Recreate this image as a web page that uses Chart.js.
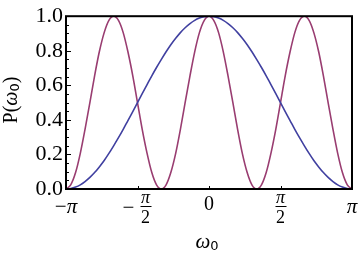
<!DOCTYPE html>
<html>
<head>
<meta charset="utf-8">
<script src="https://cdn.jsdelivr.net/npm/chart.js@4/dist/chart.umd.min.js"></script>
<style>
  html, body { margin: 0; padding: 0; background: #fff; }
  canvas { display: block; }
</style>
</head>
<body>
<canvas id="chart" width="360" height="260"></canvas>
<script>
// omega_0 in units of pi
const omega = [
  -1, -0.967, -0.933, -0.9, -0.867, -0.833, -0.8, -0.767, -0.733, -0.7,
  -0.667, -0.633, -0.6, -0.567, -0.533, -0.5, -0.467, -0.433, -0.4, -0.367,
  -0.333, -0.3, -0.267, -0.233, -0.2, -0.167, -0.133, -0.1, -0.067, -0.033,
  0,
  0.033, 0.067, 0.1, 0.133, 0.167, 0.2, 0.233, 0.267, 0.3, 0.333,
  0.367, 0.4, 0.433, 0.467, 0.5, 0.533, 0.567, 0.6, 0.633, 0.667,
  0.7, 0.733, 0.767, 0.8, 0.833, 0.867, 0.9, 0.933, 0.967, 1,
]

// wide single bump (blue)
const pBlue = [
  0, 0.003, 0.011, 0.024, 0.043, 0.067, 0.095, 0.128, 0.165, 0.206,
  0.25, 0.297, 0.345, 0.396, 0.448, 0.5, 0.552, 0.604, 0.655, 0.703,
  0.75, 0.794, 0.835, 0.872, 0.905, 0.933, 0.957, 0.976, 0.989, 0.997,
  1,
  0.997, 0.989, 0.976, 0.957, 0.933, 0.905, 0.872, 0.835, 0.794, 0.75,
  0.703, 0.655, 0.604, 0.552, 0.5, 0.448, 0.396, 0.345, 0.297, 0.25,
  0.206, 0.165, 0.128, 0.095, 0.067, 0.043, 0.024, 0.011, 0.003, 0,
]

// three bumps (purple)
const pPurple = [
  0, 0.024, 0.095, 0.206, 0.345, 0.5, 0.655, 0.794, 0.905, 0.976,
  1, 0.976, 0.905, 0.794, 0.655, 0.5, 0.345, 0.206, 0.095, 0.024,
  0, 0.024, 0.095, 0.206, 0.345, 0.5, 0.655, 0.794, 0.905, 0.976,
  1,
  0.976, 0.905, 0.794, 0.655, 0.5, 0.345, 0.206, 0.095, 0.024, 0,
  0.024, 0.095, 0.206, 0.345, 0.5, 0.655, 0.794, 0.905, 0.976, 1,
  0.976, 0.905, 0.794, 0.655, 0.5, 0.345, 0.206, 0.095, 0.024, 0,
]

const yTicks = [0, 0.2, 0.4, 0.6, 0.8, 1.0]
const xTicks = [-1, -0.5, 0, 0.5, 1]

const SERIF = "'Liberation Serif', 'Times New Roman', serif"
const SANS = "'DejaVu Sans', sans-serif"

const points = (ys) => omega.map((x, i) => ({ x, y: ys[i] }))

// frame, inward ticks, pi tick labels and axis titles
const framePlugin = {
  id: "frame",
  afterDatasetsDraw(chart) {
    const { ctx, chartArea: a, scales } = chart
    const xs = scales.x, ys = scales.y
    ctx.save()
    ctx.strokeStyle = "#000"

    // minor + major ticks on the left
    ctx.lineWidth = 1
    ctx.beginPath()
    for (let i = 1; i < 20; i++) {
      const y = Math.round(ys.getPixelForValue(i * 0.05)) + 0.5
      const len = i % 4 === 0 ? 5 : 3
      ctx.moveTo(a.left, y)
      ctx.lineTo(a.left + len, y)
    }
    for (const v of [-0.5, 0, 0.5]) {
      const x = Math.round(xs.getPixelForValue(v)) + 0.5
      ctx.moveTo(x, a.bottom)
      ctx.lineTo(x, a.bottom - 3)
    }
    ctx.stroke()

    ctx.lineWidth = 2
    ctx.strokeRect(a.left, a.top, a.right - a.left, a.bottom - a.top)

    // x tick labels
    ctx.fillStyle = "#000"
    ctx.textBaseline = "alphabetic"
    for (const v of xTicks) {
      const cx = xs.getPixelForValue(v)
      if (v === 0) {
        ctx.font = "20px " + SERIF
        ctx.textAlign = "center"
        ctx.fillText("0", cx, 210)
      } else if (Math.abs(v) === 1) {
        ctx.font = "italic 21px " + SERIF
        const piW = ctx.measureText("π").width
        ctx.font = "21px " + SERIF
        const mW = v < 0 ? ctx.measureText("−").width : 0
        let x0 = cx - (mW + piW) / 2
        ctx.textAlign = "left"
        if (v < 0) ctx.fillText("−", x0, 213)
        ctx.font = "italic 21px " + SERIF
        ctx.fillText("π", x0 + mW, 213)
      } else {
        const fx = v < 0 ? cx + 8 : cx
        ctx.textAlign = "center"
        ctx.font = "italic 18px " + SERIF
        ctx.fillText("π", fx, 203)
        ctx.font = "18px " + SERIF
        ctx.fillText("2", fx, 223)
        ctx.fillRect(fx - 5, 206, 11, 1)
        if (v < 0) {
          ctx.font = "21px " + SERIF
          ctx.fillText("−", cx - 9, 214)
        }
      }
    }

    // x title: omega_0
    ctx.textAlign = "left"
    ctx.font = "italic 21px " + SERIF
    const wW = ctx.measureText("ω").width
    ctx.font = "13px " + SANS
    const zW = ctx.measureText("0").width
    const tx = (a.left + a.right) / 2 - (wW + zW) / 2 - 2
    ctx.font = "italic 21px " + SERIF
    ctx.fillText("ω", tx, 248)
    ctx.font = "13px " + SANS
    ctx.fillText("0", tx + wW, 250)

    // y title: P(omega_0)
    ctx.translate(17, 100)
    ctx.rotate(-Math.PI / 2)
    const parts = [
      ["P(", "20px " + SERIF, 0],
      ["ω", "italic 20px " + SERIF, 0],
      ["0", "13px " + SANS, 2],
      [")", "20px " + SERIF, 0],
    ]
    let total = 0
    for (const p of parts) { ctx.font = p[1]; total += ctx.measureText(p[0]).width }
    let px = -total / 2
    for (const p of parts) {
      ctx.font = p[1]
      ctx.fillText(p[0], px, p[2])
      px += ctx.measureText(p[0]).width
    }
    ctx.restore()
  },
}

new Chart(document.getElementById("chart"), {
  type: "line",
  data: {
    datasets: [
      { data: points(pBlue), borderColor: "#4040a0" },
      { data: points(pPurple), borderColor: "#993d71" },
    ],
  },
  options: {
    responsive: false,
    animation: false,
    devicePixelRatio: 1,
    layout: { padding: { top: 15, right: 8, left: 0, bottom: 0 } },
    elements: {
      point: { radius: 0 },
      line: { borderWidth: 1.6, cubicInterpolationMode: "monotone", fill: false },
    },
    plugins: { legend: { display: false }, tooltip: { enabled: false } },
    scales: {
      x: {
        type: "linear",
        min: -1,
        max: 1,
        grid: { display: false, drawTicks: false },
        border: { display: false },
        ticks: { display: false },
        afterFit: (s) => { s.height = 71 },
      },
      y: {
        min: 0,
        max: 1,
        afterBuildTicks: (s) => { s.ticks = yTicks.map((v) => ({ value: v })) },
        grid: { display: false, drawTicks: false },
        border: { display: false },
        ticks: {
          padding: 3,
          color: "#000",
          font: { family: SERIF, size: 22 },
          callback: (v) => v.toFixed(1),
        },
        afterFit: (s) => { s.width = 66 },
      },
    },
  },
  plugins: [framePlugin],
})
</script>
</body>
</html>
